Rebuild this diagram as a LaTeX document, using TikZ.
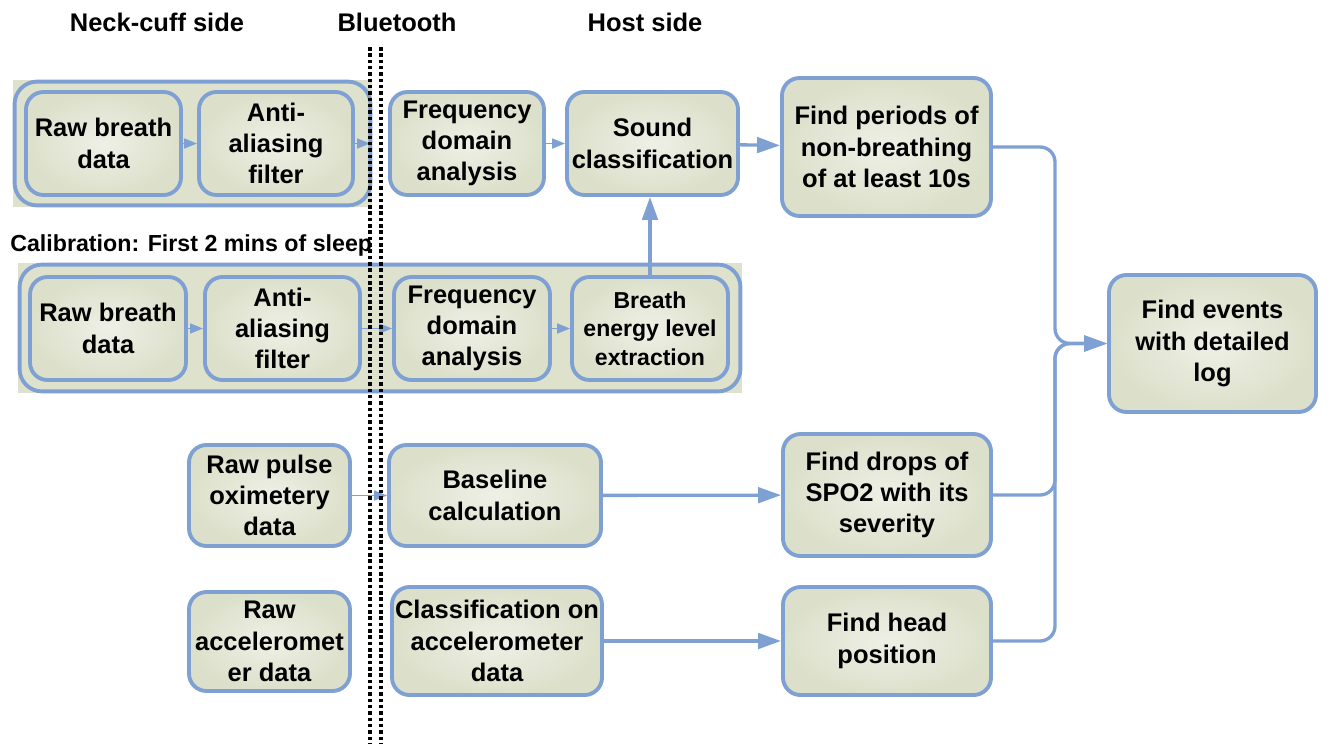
\documentclass[tikz,border=0pt]{standalone}
\usepackage{fontspec}
\setmainfont{Liberation Sans}
\usetikzlibrary{arrows.meta,calc}
\definecolor{edgeblue}{HTML}{7FA0D2}
\definecolor{boxfill}{HTML}{DCE0CA}
\definecolor{boxcore}{HTML}{EEF0E6}
\definecolor{grpfill}{HTML}{DEE2CC}
\newcommand{\bodyfont}{\fontsize{14.5}{17.8}\selectfont\bfseries}
\newcommand{\smallbodyfont}{\fontsize{13.1}{16.2}\selectfont\bfseries}
\newcommand{\headfont}{\fontsize{14.5}{17}\selectfont\bfseries}
\tikzset{
  box/.style={draw=edgeblue, line width=2.2pt, rounded corners=3.5mm, shade, inner color=boxcore, outer color=boxfill, align=center, font=\bodyfont, inner sep=0.3mm},
  grpbg/.style={fill=grpfill, inner sep=0pt},
  grprim/.style={draw=edgeblue, line width=2.2pt, rounded corners=4.5mm},
  arrow/.style={-{Triangle[length=4.6mm,width=3.1mm]}, line width=1.9pt, draw=edgeblue},
  thinarrow/.style={-{Triangle[length=2.6mm,width=2mm]}, line width=1pt, draw=edgeblue},
  btline/.style={line width=2.3pt, dash pattern=on 2pt off 1.6pt},
  header/.style={font=\headfont}
}

\begin{document}
\begin{tikzpicture}
  \useasboundingbox (0,0) rectangle (26.56,-14.86);

  % column titles
  \node[header] (tneck) at (3.14,-0.44) {Neck-cuff side};
  \node[header] (tbt) at (7.94,-0.44) {Bluetooth};
  \node[header] (thost) at (12.9,-0.44) {Host side};

  % breath path
  \node[grpbg, minimum width=7.18cm, minimum height=2.54cm] (grp1) at (3.85,-2.87) {};
  \draw[grprim] ([xshift=1.1pt,yshift=-1.1pt]grp1.north west) rectangle ([xshift=-1.1pt,yshift=1.1pt]grp1.south east);
  \node[box, minimum width=3.1cm, minimum height=2.06cm] (rb1) at (2.07,-2.87) {Raw breath\\data};
  \node[box, minimum width=3.08cm, minimum height=2.06cm] (aa1) at (5.52,-2.87) {Anti-\\aliasing\\filter};
  \node[box, minimum width=3.08cm, minimum height=2.06cm] (fd1) at (9.34,-2.87) {Frequency\\domain\\analysis};
  \node[box, minimum width=3.42cm, minimum height=2.06cm] (sc) at (13.05,-2.87) {Sound\\classification};
  \node[box, minimum width=4.18cm, minimum height=2.76cm] (fp) at (17.73,-2.94) {Find periods of\\non-breathing\\of at least 10s};
  \coordinate (bt1) at (7.4,-2.87);

  % calibration
  \node[anchor=west, font=\fontsize{13.2}{15}\selectfont\bfseries, inner sep=0pt] (calib) at (0.2,-4.9) {Calibration: First 2 mins of sleep};
  \node[grpbg, minimum width=14.48cm, minimum height=2.6cm] (grp2) at (7.6,-6.56) {};
  \draw[grprim] ([xshift=1.1pt,yshift=-1.1pt]grp2.north west) rectangle ([xshift=-1.1pt,yshift=1.1pt]grp2.south east);
  \node[box, minimum width=3.12cm, minimum height=2.06cm] (rb2) at (2.16,-6.57) {Raw breath\\data};
  \node[box, minimum width=3.1cm, minimum height=2.06cm] (aa2) at (5.65,-6.57) {Anti-\\aliasing\\filter};
  \node[box, minimum width=3.12cm, minimum height=2.06cm] (fd2) at (9.44,-6.57) {Frequency\\domain\\analysis};
  \node[box, minimum width=3.12cm, minimum height=2.06cm, font=\smallbodyfont] (be) at (13.0,-6.57) {Breath\\energy level\\extraction};

  % pulse and accelerometer
  \node[box, minimum width=3.22cm, minimum height=2.02cm] (pulse) at (5.39,-9.91) {Raw pulse\\oximetery\\data};
  \node[box, minimum width=4.24cm, minimum height=2.02cm] (base) at (9.9,-9.91) {Baseline\\calculation};
  \node[box, minimum width=4.16cm, minimum height=2.44cm] (drops) at (17.74,-9.9) {Find drops of\\SPO2 with its\\severity};
  \node[box, minimum width=3.22cm, minimum height=1.98cm] (accel) at (5.39,-12.83) {Raw\\acceleromet\\er data};
  \node[box, minimum width=4.2cm, minimum height=2.16cm] (cls) at (9.94,-12.82) {Classification on\\accelerometer\\data};
  \node[box, minimum width=4.16cm, minimum height=2.16cm] (head) at (17.74,-12.82) {Find head\\position};

  \node[box, minimum width=4.14cm, minimum height=2.74cm] (events) at (24.25,-6.87) {Find events\\with detailed\\log};
  \coordinate (merge) at (21.1,-6.87);

  % connectors
  \draw[thinarrow] (rb1) -- (aa1);
  \draw[thinarrow] (aa1) -- (bt1);
  \draw[thinarrow] (fd1) -- (sc);
  \draw[arrow] (sc) -- (fp);
  \draw[thinarrow] (rb2) -- (aa2);
  \draw[thinarrow] (aa2) -- (fd2);
  \draw[thinarrow] (fd2) -- (be);
  \draw[arrow] (be.north) -- (be.north |- sc.south);
  \draw[thinarrow] (pulse) -- (base);
  \draw[arrow] (base) -- (drops);
  \draw[arrow] (cls) -- (head);
  \draw[arrow, rounded corners=3mm] (fp.east) -| (merge) -- (events.west);
  \draw[arrow, rounded corners=3mm] (drops.east) -| (merge) -- (events.west);
  \draw[arrow, rounded corners=3mm] (head.east) -| (merge) -- (events.west);

  % bluetooth boundary
  \draw[btline] (7.4,-0.94) -- (7.4,-14.86);
  \draw[btline] (7.62,-0.94) -- (7.62,-14.86);
\end{tikzpicture}
\end{document}
